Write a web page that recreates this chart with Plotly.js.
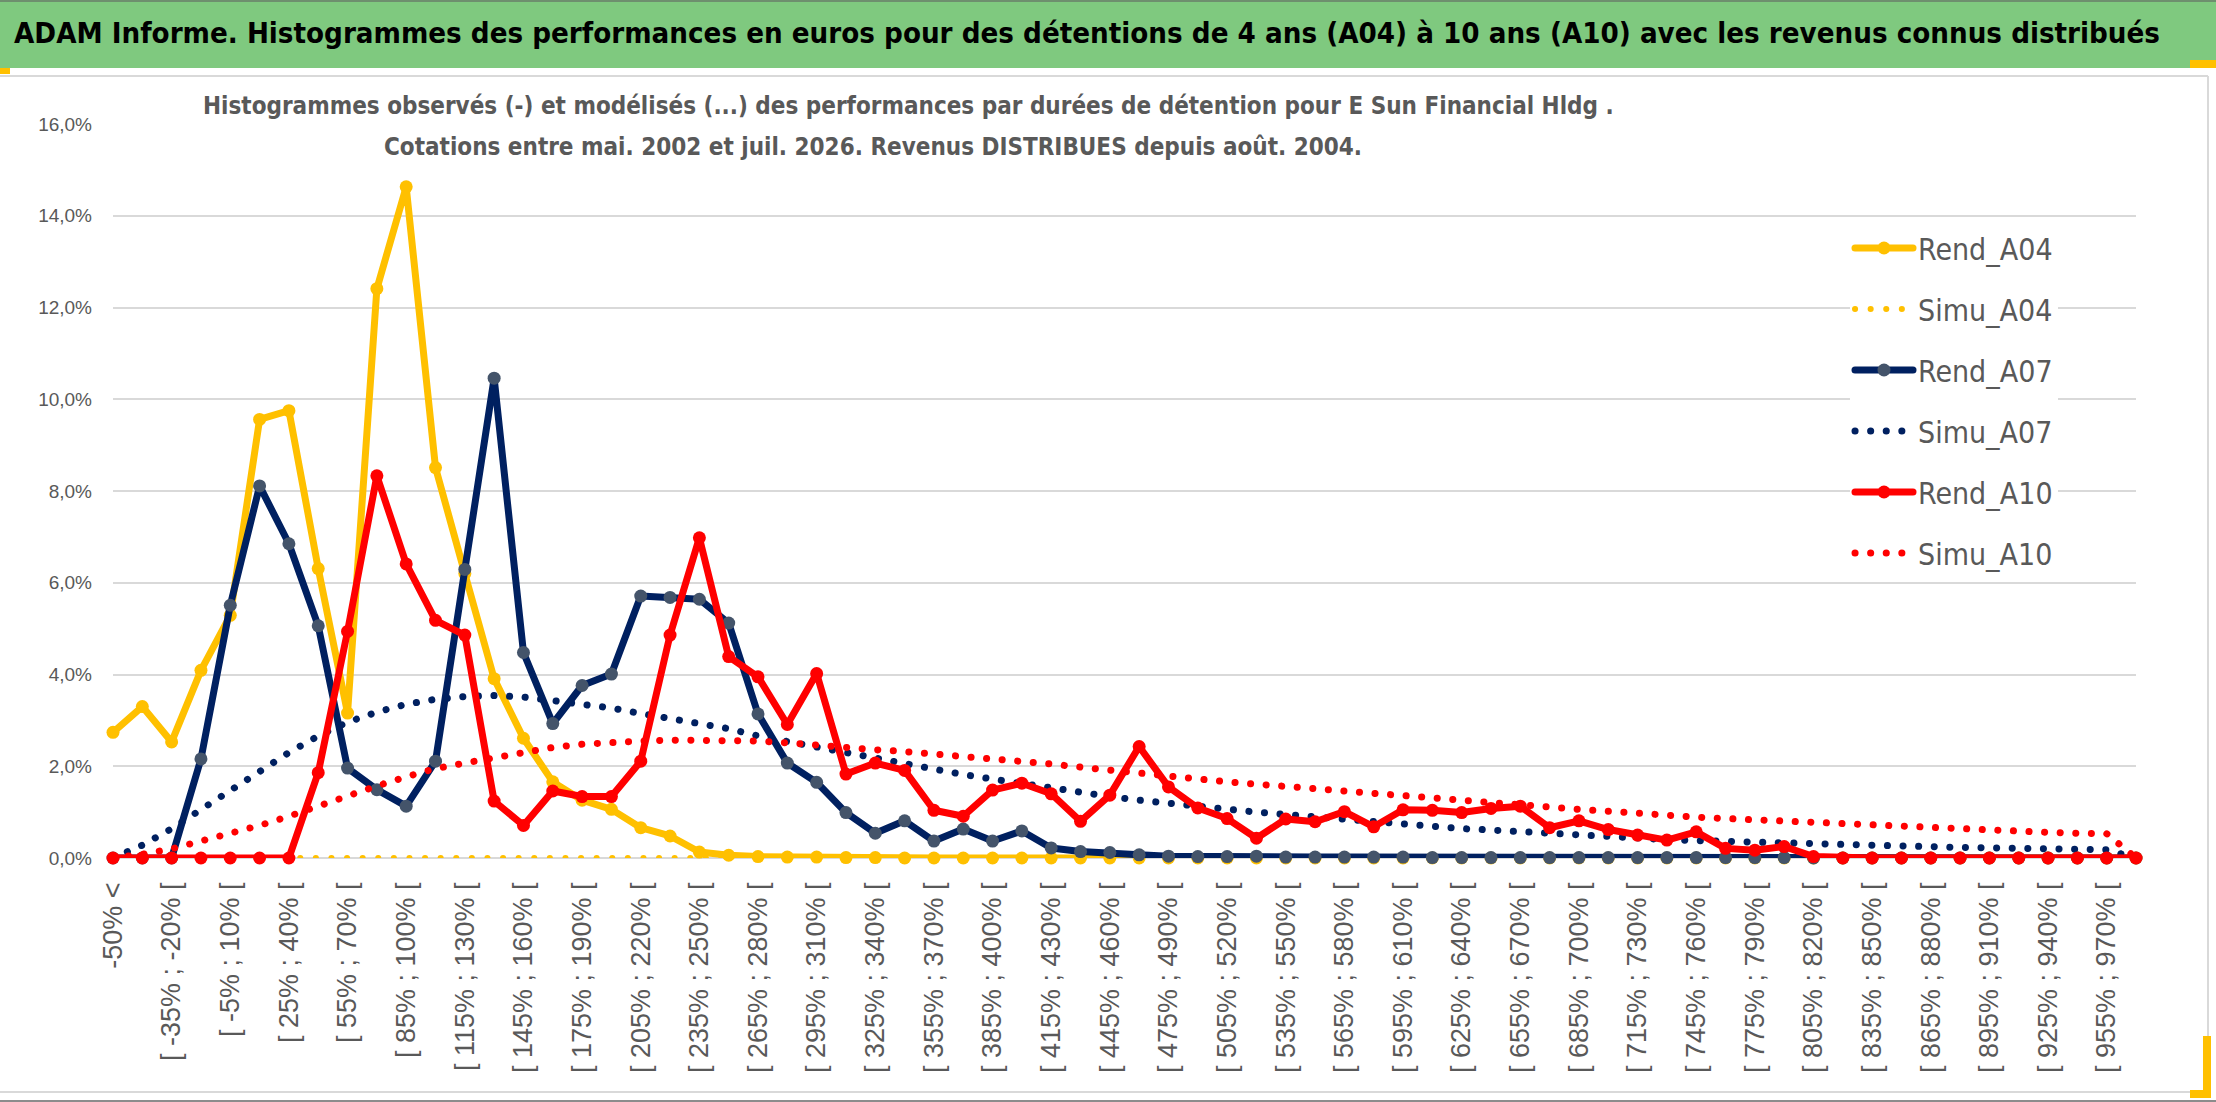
<!DOCTYPE html>
<html>
<head>
<meta charset="utf-8">
<script src="https://cdn.plot.ly/plotly-3.0.1.min.js"></script>
<style>
  html, body { margin: 0; padding: 0; background: #ffffff; }
  #chart { width: 2216px; height: 1102px; }
  /* round caps so that the simulated series look like Excel round dots */
  .scatterlayer path.js-line, .legendlines path { stroke-linecap: round; stroke-linejoin: round; }
</style>
</head>
<body>
<div id="chart"></div>
<script>
"use strict";

// ---- data (percent of observations per class) ----
const classes = [
    "-50% <", "[ -50% ; -35% [", "[ -35% ; -20% [", "[ -20% ; -5% [", "[ -5% ; 10% [",
    "[ 10% ; 25% [", "[ 25% ; 40% [", "[ 40% ; 55% [", "[ 55% ; 70% [", "[ 70% ; 85% [",
    "[ 85% ; 100% [", "[ 100% ; 115% [", "[ 115% ; 130% [", "[ 130% ; 145% [", "[ 145% ; 160% [",
    "[ 160% ; 175% [", "[ 175% ; 190% [", "[ 190% ; 205% [", "[ 205% ; 220% [", "[ 220% ; 235% [",
    "[ 235% ; 250% [", "[ 250% ; 265% [", "[ 265% ; 280% [", "[ 280% ; 295% [", "[ 295% ; 310% [",
    "[ 310% ; 325% [", "[ 325% ; 340% [", "[ 340% ; 355% [", "[ 355% ; 370% [", "[ 370% ; 385% [",
    "[ 385% ; 400% [", "[ 400% ; 415% [", "[ 415% ; 430% [", "[ 430% ; 445% [", "[ 445% ; 460% [",
    "[ 460% ; 475% [", "[ 475% ; 490% [", "[ 490% ; 505% [", "[ 505% ; 520% [", "[ 520% ; 535% [",
    "[ 535% ; 550% [", "[ 550% ; 565% [", "[ 565% ; 580% [", "[ 580% ; 595% [", "[ 595% ; 610% [",
    "[ 610% ; 625% [", "[ 625% ; 640% [", "[ 640% ; 655% [", "[ 655% ; 670% [", "[ 670% ; 685% [",
    "[ 685% ; 700% [", "[ 700% ; 715% [", "[ 715% ; 730% [", "[ 730% ; 745% [", "[ 745% ; 760% [",
    "[ 760% ; 775% [", "[ 775% ; 790% [", "[ 790% ; 805% [", "[ 805% ; 820% [", "[ 820% ; 835% [",
    "[ 835% ; 850% [", "[ 850% ; 865% [", "[ 865% ; 880% [", "[ 880% ; 895% [", "[ 895% ; 910% [",
    "[ 910% ; 925% [", "[ 925% ; 940% [", "[ 940% ; 955% [", "[ 955% ; 970% [", "970% >"
];

// labels shown on the axis (one class out of two)
const shownLabels = [
    "-50% <", "[ -35% ; -20% [", "[ -5% ; 10% [", "[ 25% ; 40% [", "[ 55% ; 70% [",
    "[ 85% ; 100% [", "[ 115% ; 130% [", "[ 145% ; 160% [", "[ 175% ; 190% [", "[ 205% ; 220% [",
    "[ 235% ; 250% [", "[ 265% ; 280% [", "[ 295% ; 310% [", "[ 325% ; 340% [", "[ 355% ; 370% [",
    "[ 385% ; 400% [", "[ 415% ; 430% [", "[ 445% ; 460% [", "[ 475% ; 490% [", "[ 505% ; 520% [",
    "[ 535% ; 550% [", "[ 565% ; 580% [", "[ 595% ; 610% [", "[ 625% ; 640% [", "[ 655% ; 670% [",
    "[ 685% ; 700% [", "[ 715% ; 730% [", "[ 745% ; 760% [", "[ 775% ; 790% [", "[ 805% ; 820% [",
    "[ 835% ; 850% [", "[ 865% ; 880% [", "[ 895% ; 910% [", "[ 925% ; 940% [", "[ 955% ; 970% ["
];

const rendA04 = [
    2.74, 3.30, 2.53, 4.09, 5.29, 9.56, 9.75, 6.31, 3.16, 12.41,
    14.63, 8.51, 6.20, 3.91, 2.61, 1.66, 1.26, 1.06, 0.66, 0.48,
    0.13, 0.06, 0.03, 0.02, 0.02, 0.01, 0.01, 0, 0, 0,
    0, 0, 0, 0, 0, 0, 0, 0, 0, 0,
    0, 0, 0, 0, 0, 0, 0, 0, 0, 0,
    0, 0, 0, 0, 0, 0, 0, 0, 0, 0,
    0, 0, 0, 0, 0, 0, 0, 0, 0, 0
];

const simuA04 = [
    0, 0, 0, 0, 0, 0, 0, 0, 0, 0,
    0, 0, 0, 0, 0, 0, 0, 0, 0, 0,
    0, 0, 0, 0, 0, 0, 0, 0, 0, 0,
    0, 0, 0, 0, 0, 0, 0, 0, 0, 0,
    0, 0, 0, 0, 0, 0, 0, 0, 0, 0,
    0, 0, 0, 0, 0, 0, 0, 0, 0, 0,
    0, 0, 0, 0, 0, 0, 0, 0, 0, 0
];

const rendA07 = [
    0, 0, 0, 2.16, 5.51, 8.11, 6.85, 5.06, 1.96, 1.49,
    1.13, 2.11, 6.29, 10.46, 4.48, 2.93, 3.76, 4.01, 5.71, 5.68,
    5.64, 5.12, 3.14, 2.07, 1.65, 0.99, 0.54, 0.81, 0.37, 0.63,
    0.37, 0.59, 0.22, 0.14, 0.12, 0.07, 0.04, 0.03, 0.03, 0.04,
    0.02, 0.02, 0.02, 0.02, 0.02, 0.01, 0.01, 0.01, 0.01, 0.01,
    0.01, 0.01, 0.01, 0.01, 0.01, 0.01, 0.01, 0.01, 0, 0,
    0, 0, 0, 0, 0, 0, 0, 0, 0, 0
];

const simuA07 = [
    0, 0.28, 0.64, 1.06, 1.48, 1.91, 2.30, 2.66, 2.96, 3.18,
    3.35, 3.46, 3.52, 3.54, 3.51, 3.43, 3.36, 3.27, 3.15, 3.05,
    2.93, 2.82, 2.66, 2.54, 2.41, 2.28, 2.17, 2.05, 1.93, 1.82,
    1.72, 1.62, 1.53, 1.43, 1.34, 1.26, 1.19, 1.12, 1.06, 1.00,
    0.95, 0.90, 0.83, 0.78, 0.72, 0.68, 0.64, 0.61, 0.57, 0.53,
    0.50, 0.46, 0.42, 0.40, 0.38, 0.36, 0.35, 0.33, 0.32, 0.30,
    0.28, 0.26, 0.25, 0.23, 0.22, 0.21, 0.20, 0.19, 0.18, 0
];

const rendA10 = [
    0, 0, 0, 0, 0, 0, 0, 1.86, 4.94, 8.33,
    6.41, 5.18, 4.86, 1.24, 0.71, 1.46, 1.34, 1.34, 2.11, 4.86,
    6.98, 4.39, 3.95, 2.91, 4.02, 1.83, 2.07, 1.91, 1.04, 0.91,
    1.48, 1.63, 1.40, 0.80, 1.37, 2.43, 1.55, 1.09, 0.86, 0.43,
    0.85, 0.79, 1.01, 0.68, 1.05, 1.04, 0.99, 1.08, 1.13, 0.66,
    0.81, 0.62, 0.50, 0.39, 0.57, 0.21, 0.17, 0.25, 0.03, 0,
    0, 0, 0, 0, 0, 0, 0, 0, 0, 0
];

const simuA10 = [
    0, 0.08, 0.20, 0.36, 0.53, 0.71, 0.91, 1.14, 1.37, 1.57,
    1.77, 1.95, 2.07, 2.19, 2.31, 2.41, 2.48, 2.53, 2.55, 2.57,
    2.57, 2.56, 2.55, 2.51, 2.45, 2.41, 2.36, 2.32, 2.27, 2.23,
    2.18, 2.11, 2.05, 1.98, 1.91, 1.84, 1.78, 1.72, 1.66, 1.61,
    1.56, 1.50, 1.45, 1.40, 1.34, 1.28, 1.23, 1.19, 1.14, 1.10,
    1.06, 1.02, 0.97, 0.93, 0.89, 0.86, 0.83, 0.80, 0.77, 0.74,
    0.71, 0.68, 0.66, 0.62, 0.60, 0.58, 0.56, 0.54, 0.53, 0
];

// ---- page geometry ----
const W = 2216, H = 1102;
const M = {l: 113, r: 80, t: 124, b: 244};
const plotW = W - M.l - M.r, plotH = H - M.t - M.b;
function px(x) { return (x - M.l) / plotW; }       // page pixel -> paper x
function py(y) { return (H - M.b - y) / plotH; }   // page pixel -> paper y

const GREY_TEXT = "#595959";
const GRID = "#D9D9D9";
const NARROW = "Liberation Sans Narrow, DejaVu Sans Condensed, Liberation Sans, Arial, sans-serif";
const REGULAR = "Liberation Sans, Arial, sans-serif";

function rendTrace(name, y, color, markerColor) {
    return {
        x: classes, y: y, name: name, legendgroup: name,
        type: "scatter", mode: "lines+markers",
        line: {color: color, width: 7},
        marker: {color: markerColor, size: 13},
        cliponaxis: false, hoverinfo: "none"
    };
}

function simuTrace(name, y, color, width) {
    return {
        x: classes, y: y, name: name, legendgroup: name,
        type: "scatter", mode: "lines",
        line: {color: color, width: width, dash: "0.1px,15.5px"},
        cliponaxis: false, hoverinfo: "none"
    };
}

const data = [
    rendTrace("Rend_A04", rendA04, "#FFC000", "#FFC000"),
    simuTrace("Simu_A04", simuA04, "#FFC000", 6),
    rendTrace("Rend_A07", rendA07, "#002060", "#44546A"),
    simuTrace("Simu_A07", simuA07, "#002060", 7),
    rendTrace("Rend_A10", rendA10, "#FF0000", "#FF0000"),
    simuTrace("Simu_A10", simuA10, "#FF0000", 7)
];

function box(x0, y0, x1, y1, color, layer) {
    return {type: "rect", xref: "paper", yref: "paper", layer: layer || "above",
        x0: px(x0), x1: px(x1), y0: py(y1), y1: py(y0),
        fillcolor: color, line: {width: 0}};
}

function rule(x0, y0, x1, y1, color, width) {
    return {type: "line", xref: "paper", yref: "paper", layer: "above",
        x0: px(x0), x1: px(x1), y0: py(y0), y1: py(y1),
        line: {color: color, width: width}};
}

const layout = {
    width: W, height: H,
    margin: M,
    paper_bgcolor: "#ffffff", plot_bgcolor: "#ffffff",
    separators: ", ",
    showlegend: true,
    title: {
        text: "ADAM Informe. Histogrammes des performances en euros pour des détentions de 4 ans (A04) à 10 ans (A10) avec les revenus connus distribués",
        xref: "container", yref: "container",
        x: 14 / W, xanchor: "left", y: 1 - 33 / H, yanchor: "middle",
        font: {family: NARROW, size: 29.2, color: "#000000", weight: "bold"}
    },
    xaxis: {
        type: "category", range: [0, 69],
        tickmode: "array", tickvals: shownLabels, ticktext: shownLabels,
        tickangle: -90, ticks: "", ticklabelstandoff: 18,
        showgrid: false, zeroline: false, showline: false,
        tickfont: {family: REGULAR, size: 27, color: GREY_TEXT}
    },
    // second axis only for the vertical grid, one line every four classes
    xaxis2: {
        overlaying: "x", type: "linear", range: [0, 69],
        tick0: 0, dtick: 4, showticklabels: false, ticks: "",
        showgrid: true, gridcolor: GRID, gridwidth: 2,
        zeroline: true, zerolinecolor: GRID, zerolinewidth: 2
    },
    yaxis: {
        range: [0, 16], dtick: 2, tickformat: ".1f", ticksuffix: "%",
        ticks: "", ticklabelstandoff: 20,
        showgrid: true, gridcolor: GRID, gridwidth: 2,
        zeroline: true, zerolinecolor: GRID, zerolinewidth: 2,
        showline: false,
        tickfont: {family: REGULAR, size: 19, color: GREY_TEXT}
    },
    legend: {
        x: px(1850), y: py(222), xanchor: "left", yanchor: "top",
        bgcolor: "#ffffff", borderwidth: 0,
        tracegroupgap: 19, traceorder: "grouped", itemwidth: 58,
        font: {family: NARROW, size: 30, color: GREY_TEXT}
    },
    shapes: [
        box(0, 0, W, 68, "#7FC97F"),
        rule(0, 1, W, 1, "#6E8F6E", 2),
        rule(0, 76, 2208, 76, GRID, 2),
        rule(2208, 76, 2208, 1092, GRID, 2),
        rule(0, 1092, 2208, 1092, GRID, 2),
        rule(0, 1101, W, 1101, "#8C8C8C", 2),
        box(2203, 1036, 2211, 1098, "#FFC000"),
        box(2190, 1090, 2211, 1098, "#FFC000"),
        box(2190, 60, 2216, 68, "#FFC000"),
        box(0, 68, 10, 74, "#FFC000"),
        // white frame behind the chart title, hiding the top of the grid
        box(212, 84, 1600, 168, "#ffffff")
    ],
    annotations: [
        {
            text: "Histogrammes observés (-) et modélisés (...) des performances par durées de détention pour E Sun Financial Hldg .",
            xref: "paper", yref: "paper", x: px(908), y: py(106),
            xanchor: "center", yanchor: "middle", showarrow: false,
            font: {family: NARROW, size: 24, color: GREY_TEXT, weight: "bold"}
        },
        {
            text: "Cotations entre mai. 2002 et juil. 2026. Revenus DISTRIBUES depuis août. 2004.",
            xref: "paper", yref: "paper", x: px(873), y: py(147),
            xanchor: "center", yanchor: "middle", showarrow: false,
            font: {family: NARROW, size: 24, color: GREY_TEXT, weight: "bold"}
        }
    ]
};

Plotly.newPlot("chart", data, layout, {staticPlot: true, displayModeBar: false});
</script>
</body>
</html>
